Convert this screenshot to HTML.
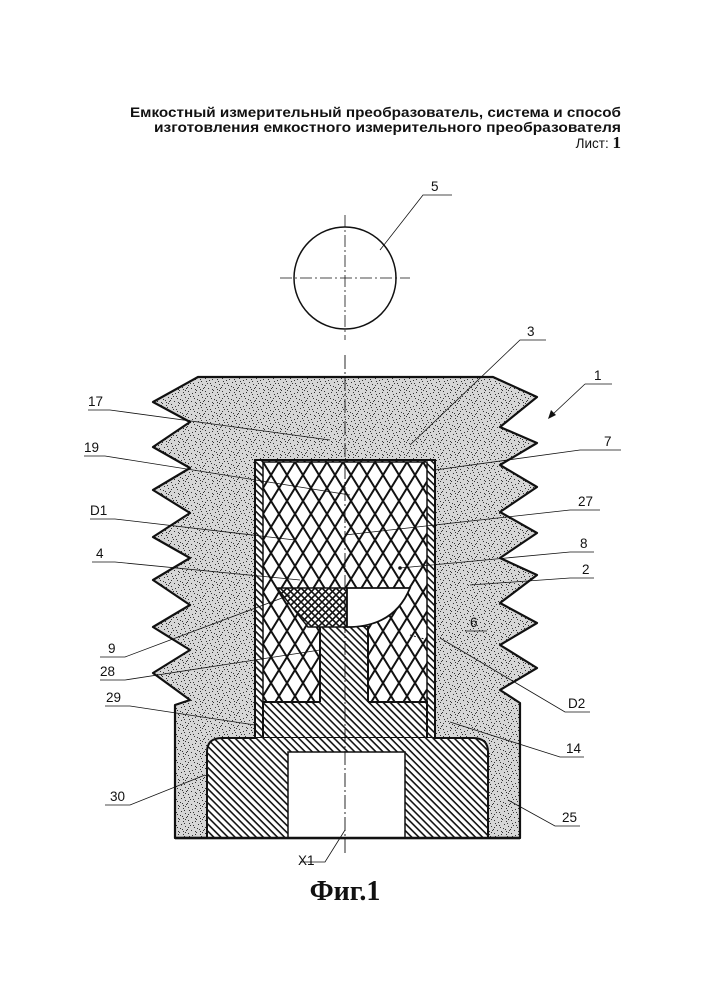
<!DOCTYPE html>
<html><head><meta charset="utf-8"><style>
html,body{margin:0;padding:0;background:#fff;}
svg{display:block;}
text{font-family:"Liberation Sans",sans-serif;fill:#111;}
</style></head><body>
<svg width="707" height="1000" viewBox="0 0 707 1000" xmlns="http://www.w3.org/2000/svg">
<defs>
<pattern id="stip" width="17" height="13" patternUnits="userSpaceOnUse">
<rect width="17" height="13" fill="#d6d6d6"/>
<g fill="#333">
<rect x="1" y="1" width="1" height="1"/><rect x="5" y="3" width="1" height="1"/><rect x="9" y="0" width="1" height="1"/><rect x="13" y="2" width="1" height="1"/>
<rect x="3" y="6" width="1" height="1"/><rect x="7" y="8" width="1" height="1"/><rect x="11" y="5" width="1" height="1"/><rect x="15" y="7" width="1" height="1"/>
<rect x="0" y="10" width="1" height="1"/><rect x="4" y="11" width="1" height="1"/><rect x="8" y="12" width="1" height="1"/><rect x="12" y="10" width="1" height="1"/><rect x="16" y="11" width="1" height="1"/>
<rect x="2" y="4" width="1" height="1"/><rect x="10" y="9" width="1" height="1"/><rect x="14" y="4" width="1" height="1"/><rect x="6" y="6" width="1" height="1"/>
<rect x="8" y="2" width="1" height="1"/><rect x="1" y="8" width="1" height="1"/><rect x="13" y="12" width="1" height="1"/><rect x="15" y="0" width="1" height="1"/>
</g>
</pattern>
<pattern id="diam" width="16" height="26" patternUnits="userSpaceOnUse" x="263" y="462">
<rect width="16" height="26" fill="#fff"/>
<path d="M0 0 L16 26 M16 0 L0 26 M-8 13 L0 26 M8 -13 L24 13 M24 13 L16 26 M-8 13 L0 0 M8 39 L24 13" stroke="#111" stroke-width="2" fill="none"/>
</pattern>
<pattern id="fine" width="7" height="7" patternUnits="userSpaceOnUse">
<rect width="7" height="7" fill="#fff"/>
<path d="M0 0 L7 7 M7 0 L0 7" stroke="#111" stroke-width="1.6"/>
</pattern>
<pattern id="hatch" width="5" height="5" patternUnits="userSpaceOnUse" patternTransform="rotate(45)">
<rect width="5" height="5" fill="#fff"/>
<rect width="5" height="1.6" fill="#111"/>
</pattern>
</defs>

<text x="621" y="117" text-anchor="end" font-size="13.5" font-weight="bold" textLength="491" lengthAdjust="spacingAndGlyphs">Емкостный измерительный преобразователь, система и способ</text>
<text x="621" y="132" text-anchor="end" font-size="13.5" font-weight="bold" textLength="467" lengthAdjust="spacingAndGlyphs">изготовления емкостного измерительного преобразователя</text>
<text x="621" y="148" text-anchor="end" font-size="13.5">Лист: <tspan font-family="Liberation Serif" font-weight="bold" font-size="17">1</tspan></text>

<circle cx="345" cy="278" r="51" fill="#fff" stroke="#111" stroke-width="1.5"/>
<line x1="280" y1="278" x2="410" y2="278" stroke="#111" stroke-width="0.8" stroke-dasharray="12,3,2,3"/>
<line x1="345" y1="215" x2="345" y2="340" stroke="#111" stroke-width="0.8" stroke-dasharray="12,3,2,3"/>

<path d="M198 377 L493 377 L537 397 L500 427 L537 443 L500 465 L537 487 L500 512 L537 533 L500 558 L537 575 L500 603 L537 623 L500 645 L537 668 L500 690 L520 703 L520 838 L175 838 L175 705 L190 700 L153 673 L190 650 L153 627 L190 605 L153 580 L190 558 L153 537 L190 513 L153 490 L190 468 L153 447 L190 422 L153 402 Z" fill="url(#stip)" stroke="#111" stroke-width="2.2" stroke-linejoin="round"/>

<path d="M207 838 L207 752 Q207 738 222 738 L473 738 Q488 738 488 752 L488 838 Z" fill="url(#hatch)" stroke="#111" stroke-width="2"/>
<rect x="255" y="460" width="180" height="278" fill="url(#hatch)" stroke="#111" stroke-width="2"/>
<rect x="263" y="462" width="164" height="240" fill="url(#diam)" stroke="#111" stroke-width="1.5"/>
<path d="M263 702 L320 702 L320 627 L368 627 L368 702 L427 702 L427 738 L263 738 Z" fill="url(#hatch)" stroke="#111" stroke-width="2"/>
<rect x="320" y="627" width="48" height="76" fill="url(#hatch)"/>
<line x1="320" y1="627" x2="320" y2="702" stroke="#111" stroke-width="2"/>
<line x1="368" y1="627" x2="368" y2="702" stroke="#111" stroke-width="2"/>
<rect x="264" y="703" width="162" height="34" fill="url(#hatch)"/>
<rect x="257" y="738" width="176" height="14" fill="url(#hatch)"/>
<path d="M277 588 L347 588 L347 627 L308 627 Z" fill="url(#fine)" stroke="#111" stroke-width="1.5"/>
<path d="M347 588 L410 588 Q395 625 352 627 L347 627 Z" fill="#fff" stroke="#111" stroke-width="1.8"/>
<rect x="288" y="752" width="117" height="86" fill="#fff" stroke="#111" stroke-width="1.5"/>
<line x1="175" y1="838" x2="520" y2="838" stroke="#111" stroke-width="2.5"/>
<line x1="345" y1="355" x2="345" y2="855" stroke="#111" stroke-width="0.9" stroke-dasharray="14,3,2,3"/>

<g stroke="#111" stroke-width="0.8" fill="none">
<polyline points="452,195 423,195 380,250"/>
<polyline points="546,340 520,340 410,445"/>
<polyline points="88,410 110,410 330,440"/>
<polyline points="84,456 105,456 350,495"/>
<polyline points="90,519 115,519 295,540"/>
<polyline points="92,562 115,562 300,580"/>
<polyline points="100,657 125,657 290,595"/>
<polyline points="100,680 125,680 320,650"/>
<polyline points="105,706 130,706 255,725"/>
<polyline points="105,805 130,805 205,775"/>
<polyline points="621,450 580,450 435,470"/>
<polyline points="600,510 570,510 345,535"/>
<polyline points="594,552 570,552 400,568"/>
<polyline points="594,578 570,578 470,585"/>
<polyline points="590,712 565,712 440,638"/>
<polyline points="584,757 560,757 450,722"/>
<polyline points="580,826 555,826 508,800"/>
<polyline points="300,862 325,862 345,830"/>
<line x1="465" y1="631" x2="487" y2="631"/>
<line x1="612" y1="384" x2="585" y2="384"/>
<line x1="585" y1="384" x2="552" y2="415"/>
</g>
<path d="M548 419 L551 410 L556 415 Z" fill="#111"/>
<circle cx="400" cy="568" r="1.8" fill="#111"/>
<path d="M410 635 L428 640" stroke="#111" stroke-width="1" stroke-dasharray="2,2"/>

<g font-size="13.5">
<text x="431" y="191">5</text>
<text x="527" y="336">3</text>
<text x="594" y="380">1</text>
<text x="604" y="446">7</text>
<text x="578" y="506">27</text>
<text x="580" y="548">8</text>
<text x="582" y="574">2</text>
<text x="470" y="627">6</text>
<text x="568" y="708">D2</text>
<text x="566" y="753">14</text>
<text x="562" y="822">25</text>
<text x="88" y="406">17</text>
<text x="84" y="452">19</text>
<text x="90" y="515">D1</text>
<text x="96" y="558">4</text>
<text x="108" y="653">9</text>
<text x="100" y="676">28</text>
<text x="106" y="702">29</text>
<text x="110" y="801">30</text>
<text x="298" y="865">X1</text>
</g>
<text x="345" y="900" text-anchor="middle" font-weight="bold" font-size="28" style="font-family:'Liberation Serif',serif">Фиг.1</text>
</svg>
</body></html>
